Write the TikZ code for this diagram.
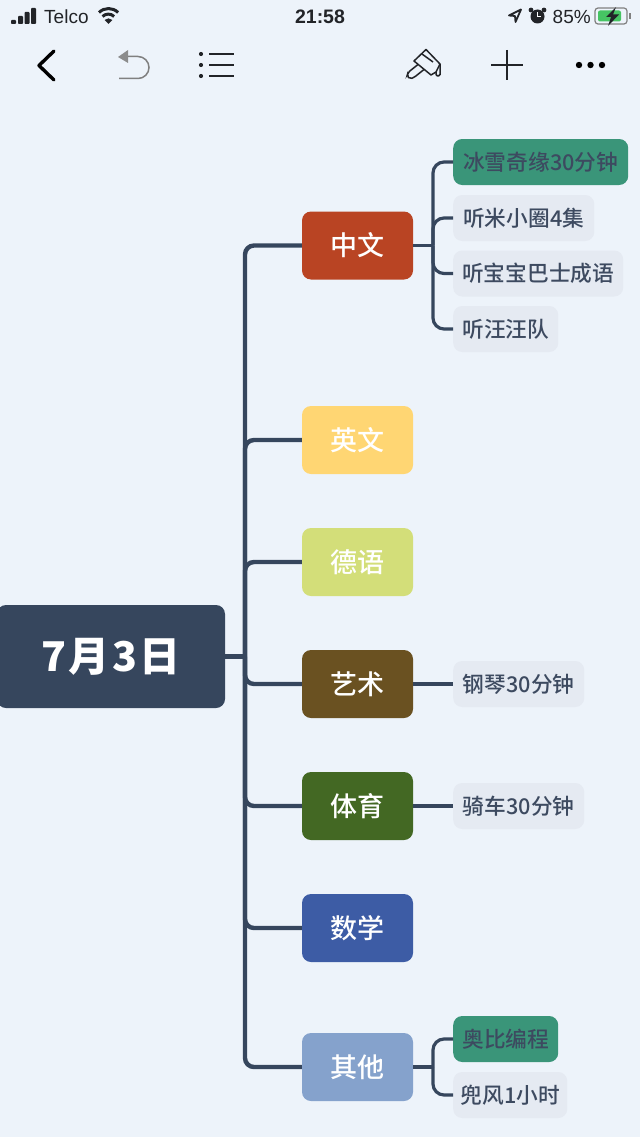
\documentclass[tikz,border=0pt]{standalone}
\usepackage{fontspec}
\setmainfont{Noto Sans CJK SC}[UprightFont=* Medium]
\newfontfamily\latinfont{Liberation Sans}
\definecolor{bgblue}{HTML}{EDF3FA}
\definecolor{slate}{HTML}{36465D}
\definecolor{leafgrey}{HTML}{E5EAF2}
\definecolor{leaftext}{HTML}{3D4A60}
\definecolor{teal2}{HTML}{3A9579}
\definecolor{iconink}{HTML}{222428}
\definecolor{zhred}{HTML}{B94423}
\definecolor{enyellow}{HTML}{FFD673}
\definecolor{delime}{HTML}{D3DE79}
\definecolor{artbrown}{HTML}{6A5121}
\definecolor{sportgreen}{HTML}{436823}
\definecolor{mathblue}{HTML}{3D5CA5}
\definecolor{otherblue}{HTML}{85A2CC}
\definecolor{batgreen}{HTML}{46C463}
\tikzset{
	rootbox/.style={rectangle,rounded corners=9pt,fill=slate,text=white,font=\fontsize{41}{44}\selectfont\bfseries,minimum width=228pt,minimum height=103pt,inner sep=0pt},
	topicbox/.style={rectangle,rounded corners=9pt,fill=#1,text=white,font=\fontsize{27}{30}\selectfont,minimum width=111pt,minimum height=68pt,inner sep=0pt},
	leafbox/.style={rectangle,rounded corners=9pt,fill=leafgrey,text=leaftext,font=\fontsize{21.7}{24}\selectfont,minimum height=46pt,inner sep=0pt,anchor=west},
	donebox/.style={leafbox,fill=teal2},
	mainline/.style={draw=slate,line width=4.4pt},
	subline/.style={draw=slate,line width=3.2pt},
	barfont/.style={inner sep=0pt,text=iconink,font=\latinfont\fontsize{19}{21}\selectfont}
}
\begin{document}
\begin{tikzpicture}[x=1pt,y=-1pt]
	\useasboundingbox[fill=bgblue] (0,0) rectangle (640,1137);
	\clip (0,0) rectangle (640,1137);

	% status bar
	\foreach \x/\h in {11/4,18/8,24.5/12,31/16}{
		\fill[iconink,rounded corners=0.8pt] (\x,24) rectangle (\x+5,24-\h);
	}
	\node (telco)[barfont,anchor=west] at (44,16.5) {Telco};
	\draw[iconink,line width=3pt] (99,12.5) arc (-135:-45:13.5);
	\draw[iconink,line width=3pt] (102.5,16.5) arc (-135:-45:8.2);
	\fill[iconink] (108.5,24) -- (104.5,20) arc (-135:-45:5.6) -- cycle;
	\node (clock)[barfont,font=\latinfont\fontsize{19.5}{21}\selectfont\bfseries] at (320,16.5) {21:58};
	\draw[iconink,line width=1.8pt,line join=round] (521,9.5) -- (509,15.5) -- (515,16) -- (515.5,22) -- cycle;
	\fill[iconink] (537.5,16.5) circle (7);
	\fill[iconink] (531,10) circle (2.4) (544,10) circle (2.4);
	\draw[white,line width=1pt] (537.5,12) -- (537.5,17) -- (541,17);
	\node (percent)[barfont,anchor=west] at (552.5,16.5) {85\%};
	\draw[gray,line width=1.2pt,rounded corners=3pt] (595,8) rectangle (627,24);
	\fill[gray] (629,13) rectangle (631,19);
	\fill[batgreen,rounded corners=2pt] (598,10.5) rectangle (621,21.5);
	\fill[iconink] (616,7) -- (606,17) -- (611,17) -- (608,26) -- (619,14.5) -- (613,14.5) -- cycle;

	% toolbar
	\draw[black,line width=3.4pt,line cap=round,line join=round] (54,51) -- (39,65.5) -- (54,80);
	\fill[gray!90] (118,57) -- (128,50) -- (128,63) -- cycle;
	\draw[gray,line width=1.5pt] (128,56.5) -- (138,56.5) arc (-90:90:11) -- (119,78.5);
	\foreach \y in {54,65,76}{
		\fill[iconink] (201,\y) circle (2.1);
		\draw[iconink,line width=1.6pt] (209,\y) -- (234,\y);
	}
	\draw[iconink,line width=1.5pt,line join=round] (426,49.5) -- (414,61) -- (431,75) -- (436,72) -- (440,64) -- cycle;
	\draw[iconink,line width=1.5pt,rounded corners=2pt] (418,64.5) -- (408,72.5) -- (407,76) -- (410,79) -- (414,77.5) -- (424,69.5);
	\draw[iconink,line width=1.5pt] (422,54) -- (433,62);
	\draw[iconink,line width=1.5pt,rounded corners=1.5pt] (436,72) -- (436,76) -- (440,76) -- (440,64);
	\draw[iconink,line width=1.6pt] (491,65) -- (523,65) (507,50) -- (507,80);
	\foreach \x in {579,590.5,602}{
		\fill[black] (\x,65) circle (3.2);
	}

	% map nodes
	\node (root)[rootbox] at (111,656.5) {7\hspace{2.5pt}月\hspace{2.5pt}3\hspace{2.5pt}日};
	\node (zh)[topicbox=zhred] at (357.5,245.5) {中文};
	\node (en)[topicbox=enyellow] at (357.5,440) {英文};
	\node (de)[topicbox=delime] at (357.5,562) {德语};
	\node (art)[topicbox=artbrown] at (357.5,684) {艺术};
	\node (sport)[topicbox=sportgreen] at (357.5,806) {体育};
	\node (math)[topicbox=mathblue] at (357.5,928) {数学};
	\node (other)[topicbox=otherblue] at (357.5,1067) {其他};

	\node (bingxue)[donebox,minimum width=175pt] at (453,162) {冰雪奇缘30分钟};
	\node (mixiao)[leafbox,minimum width=141pt] at (453,218) {听米小圈4集};
	\node (baobao)[leafbox,minimum width=170pt] at (453,273.5) {听宝宝巴士成语};
	\node (wangwang)[leafbox,minimum width=105pt] at (453,329) {听汪汪队};
	\node (piano)[leafbox,minimum width=131pt] at (453,684) {钢琴30分钟};
	\node (bike)[leafbox,minimum width=131pt] at (453,806) {骑车30分钟};
	\node (coding)[donebox,minimum width=105pt] at (453,1039) {奥比编程};
	\node (ride)[leafbox,minimum width=114pt] at (453,1095) {兜风1小时};

	% connectors
	\coordinate (trunk) at (245,656.5);
	\coordinate (zhfork) at (433,245.5);
	\coordinate (otherfork) at (433,1067);
	\draw[mainline] (root.east) -- (trunk);
	\foreach \topic in {zh,en,de,art,sport,math,other}{
		\draw[mainline,rounded corners=9pt] (trunk) |- (\topic.west);
	}
	\draw[subline] (zh.east) -- (zhfork);
	\foreach \leaf in {bingxue,mixiao,baobao,wangwang}{
		\draw[subline,rounded corners=11pt] (zhfork) |- (\leaf.west);
	}
	\draw[subline] (art) -- (piano);
	\draw[subline] (sport) -- (bike);
	\draw[subline] (other.east) -- (otherfork);
	\foreach \leaf in {coding,ride}{
		\draw[subline,rounded corners=11pt] (otherfork) |- (\leaf.west);
	}
\end{tikzpicture}
\end{document}
